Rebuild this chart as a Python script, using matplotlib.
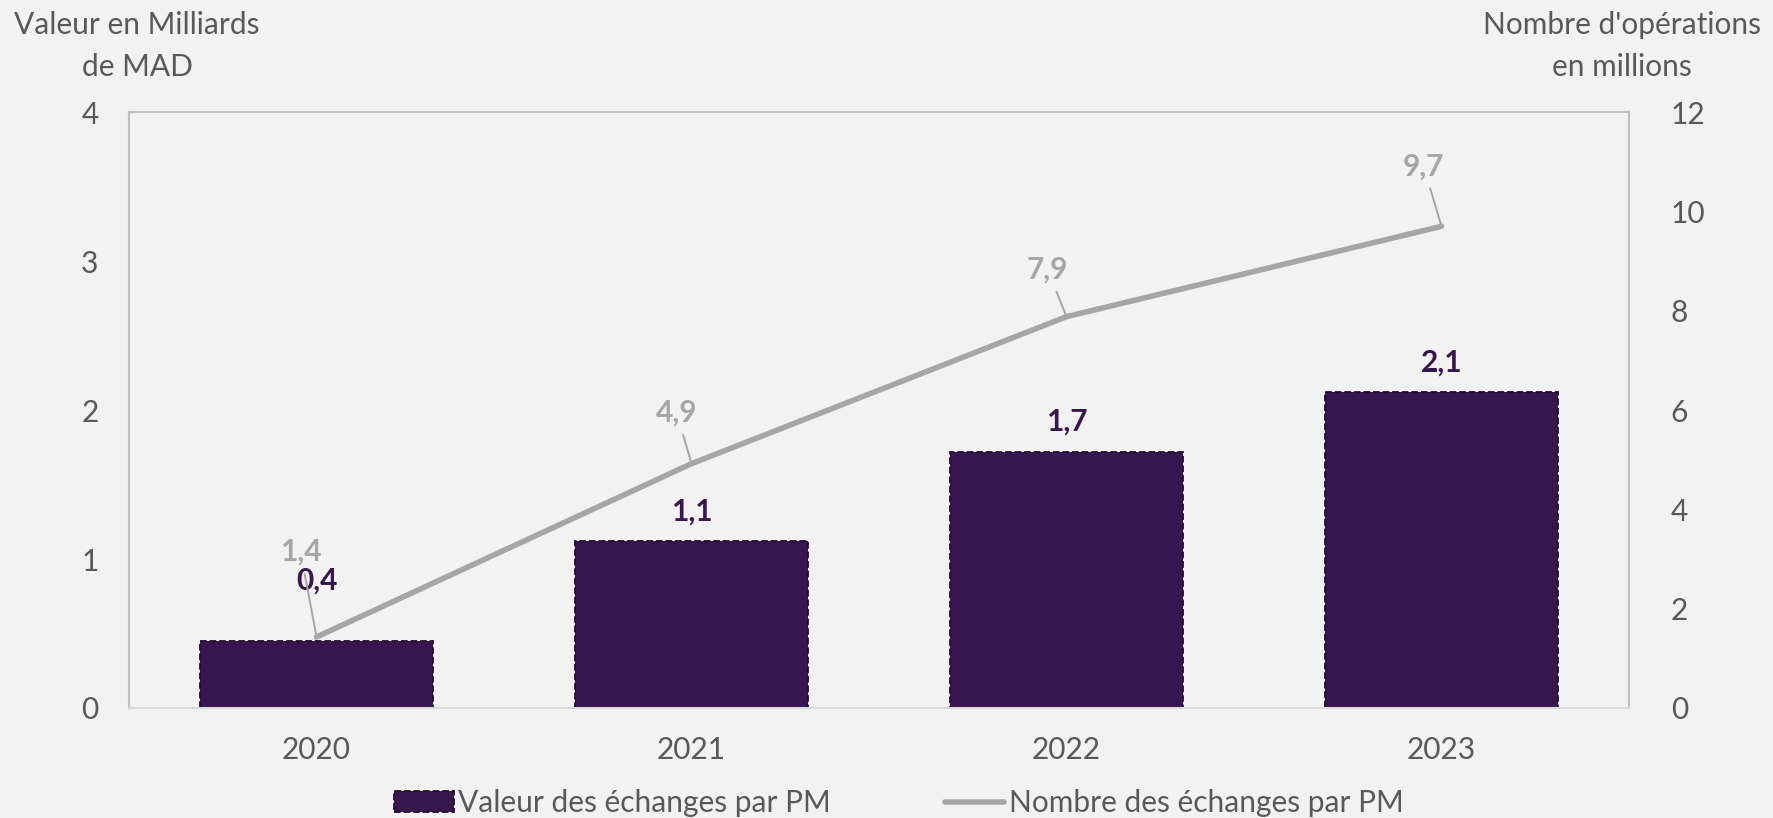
import matplotlib
matplotlib.use("Agg")
import matplotlib.pyplot as plt
import numpy as np

years = ["2020", "2021", "2022", "2023"]
valeur = [0.45, 1.12, 1.72, 2.12]
valeur_labels = ["0,4", "1,1", "1,7", "2,1"]
nombre = [1.43, 4.92, 7.88, 9.70]
nombre_labels = ["1,4", "4,9", "7,9", "9,7"]
left_ticks = [0, 1, 2, 3, 4]
right_ticks = [0, 2, 4, 6, 8, 10, 12]

plt.rcParams['font.family'] = ['Lato', 'DejaVu Sans']
BG = "#f2f2f2"
PURPLE = "#38154f"
GRAY = "#a6a6a6"
TXT = "#595959"
FS = 21.5

fig = plt.figure(figsize=(17.73, 8.18), dpi=100, facecolor=BG)
ax = fig.add_axes([0.0728, 0.1345, 0.846, 0.7285])
ax.set_facecolor(BG)
x = np.arange(len(years))

ax.bar(x, valeur, width=0.62, color=PURPLE, edgecolor="#240b35", linestyle="--", linewidth=1.3,
       label="Valeur des échanges par PM", zorder=2)
ax.set_xlim(-0.5, 3.5)
ax.set_ylim(0, 4)
ax.set_yticks(left_ticks)
ax.set_xticks(x)
ax.set_xticklabels(years)
ax.tick_params(axis='both', length=0, labelsize=FS, labelcolor=TXT)
ax.tick_params(axis='y', pad=22)
ax.tick_params(axis='x', pad=20)
for s in ['left', 'top', 'right']:
    ax.spines[s].set_color("#bfbfbf")
    ax.spines[s].set_linewidth(1.5)
ax.spines['bottom'].set_color("#d9d9d9")
ax.spines['bottom'].set_linewidth(1.5)

bar_offsets = [60, 30, 30, 30]
for xi, v, lab, off in zip(x, valeur, valeur_labels, bar_offsets):
    ax.annotate(lab, (xi, v), xytext=(0, off), textcoords='offset pixels',
                ha='center', va='center', fontsize=FS, fontweight='bold', color=PURPLE, zorder=5)

ax2 = ax.twinx()
ax2.set_ylim(0, 12)
ax2.set_yticks(right_ticks)
ax2.tick_params(axis='y', length=0, labelsize=FS, labelcolor=TXT, pad=30)
for s in ax2.spines.values():
    s.set_visible(False)
ax2.plot(x, nombre, color=GRAY, lw=4, solid_capstyle='round', label="Nombre des échanges par PM", zorder=3)

line_offsets = [(-16, 85), (-15, 51), (-19, 47), (-18, 60)]
for xi, v, lab, (dx, dy) in zip(x, nombre, nombre_labels, line_offsets):
    ax2.annotate(lab, (xi, v), xytext=(dx, dy), textcoords='offset pixels',
                 ha='center', va='center', fontsize=FS, fontweight='bold', color=GRAY,
                 arrowprops=dict(arrowstyle='-', color=GRAY, lw=1.4, shrinkA=4, shrinkB=0))

fig.text(0.0773, 0.944, "Valeur en Milliards\nde MAD", ha='center', va='center',
         fontsize=FS, color=TXT, linespacing=1.6)
fig.text(0.9148, 0.944, "Nombre d'opérations\nen millions", ha='center', va='center',
         fontsize=FS, color=TXT, linespacing=1.6)

h1, l1 = ax.get_legend_handles_labels()
h2, l2 = ax2.get_legend_handles_labels()
leg = fig.legend(h1 + h2, l1 + l2, loc='center', bbox_to_anchor=(0.507, 0.018), ncol=2,
                 frameon=False, fontsize=FS, labelcolor=TXT, handlelength=2.0,
                 handletextpad=0.15, columnspacing=3.8)

fig.savefig("out.png", dpi=100, facecolor=BG)
